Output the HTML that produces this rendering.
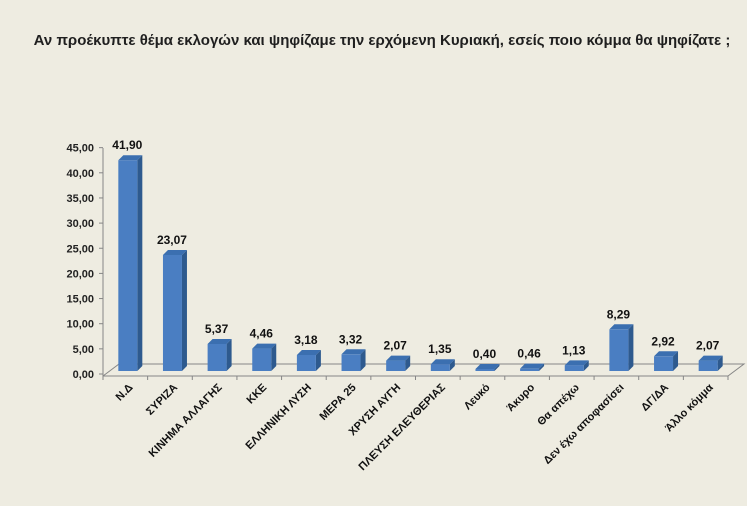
<!DOCTYPE html>
<html><head><meta charset="utf-8"><style>
body{margin:0;background:#EEECE1;}
svg{display:block;font-family:"Liberation Sans","DejaVu Sans",sans-serif;}
</style></head><body>
<svg width="747" height="506" viewBox="0 0 747 506">
<rect width="747" height="506" fill="#EEECE1"/>
<text x="382" y="45" text-anchor="middle" font-size="15" font-weight="bold" fill="#1F1F1F">Αν προέκυπτε θέμα εκλογών και ψηφίζαμε την ερχόμενη Κυριακή, εσείς ποιο κόμμα θα ψηφίζατε ;</text>
<g id="axes"></g>
<g id="bars"></g>
</svg>
<script>
const categories=["Ν.Δ","ΣΥΡΙΖΑ","ΚΙΝΗΜΑ ΑΛΛΑΓΗΣ","ΚΚΕ","ΕΛΛΗΝΙΚΗ ΛΥΣΗ","ΜΕΡΑ 25","ΧΡΥΣΗ ΑΥΓΗ","ΠΛΕΥΣΗ ΕΛΕΥΘΕΡΙΑΣ","Λευκό","Άκυρο","Θα απέχω","Δεν έχω αποφασίσει","ΔΓ/ΔΑ","Άλλο κόμμα"];
const values=[41.90,23.07,5.37,4.46,3.18,3.32,2.07,1.35,0.40,0.46,1.13,8.29,2.92,2.07];
const labels=["41,90","23,07","5,37","4,46","3,18","3,32","2,07","1,35","0,40","0,46","1,13","8,29","2,92","2,07"];
const ticks=[0,5,10,15,20,25,30,35,40,45];
const tickLabels=["0,00","5,00","10,00","15,00","20,00","25,00","30,00","35,00","40,00","45,00"];
const NS="http://www.w3.org/2000/svg";
const x0=103,x1=728,y0=376,kY=5.03,dx=16,dy=12;
const n=categories.length, cw=(x1-x0)/n;
const yS=v=>y0-3-v*kY;
function mk(t,a,p){const e=document.createElementNS(NS,t);for(const k in a)e.setAttribute(k,a[k]);if(t==="text"&&a._t!==undefined){e.textContent=a._t;e.removeAttribute('_t');}(p||document.getElementById('axes')).appendChild(e);return e;}
const ax=document.getElementById('axes');
let e;
e=mk('line',{x1:x0,y1:148,x2:x0,y2:y0,stroke:'#868686'});


e=mk('polyline',{points:`${x0},${y0} ${x0+dx},${y0-dy} ${x1+dx},${y0-dy} ${x1},${y0}`,fill:'none',stroke:'#868686'});


e=mk('line',{x1:x0,y1:y0,x2:x1,y2:y0,stroke:'#868686'});


ticks.forEach((t,i)=>{const y=y0-2-t*kY;
 mk('line',{x1:x0-4,y1:y,x2:x0,y2:y,stroke:'#868686'});
 e=mk('text',{x:x0-9,y:y+4,'text-anchor':'end','font-size':11,'font-weight':'bold',fill:'#222',_t:tickLabels[i]});
 
 
});
for(let i=0;i<=n;i++){const x=x0+i*cw;mk('line',{x1:x,y1:y0,x2:x,y2:y0+4,stroke:'#868686'});}
const bg=document.getElementById('bars');
categories.forEach((c,i)=>{
 const cx=x0+(i+0.5)*cw, bl=cx-7, bw=19, d=5, yb=y0-5, yt=yb-values[i]*kY;
 const g=mk('g',{},bg);
 
 
 mk('polygon',{points:`${bl+bw},${yt} ${bl+bw+d},${yt-d} ${bl+bw+d},${yb-d} ${bl+bw},${yb}`,fill:'#2E5A8E'},g);
 mk('polygon',{points:`${bl},${yt} ${bl+d},${yt-d} ${bl+bw+d},${yt-d} ${bl+bw},${yt}`,fill:'#3B6FB0'},g);
 mk('rect',{x:bl,y:yt,width:bw,height:yb-yt,fill:'#4A7EC2'},g);
 e=mk('text',{x:cx+2,y:yt-11,'text-anchor':'middle','font-size':12,'font-weight':'bold',fill:'#111',_t:labels[i]});
 
 
 e=mk('text',{x:cx+8,y:y0+12,'text-anchor':'end','font-size':11,'font-weight':'bold',fill:'#111',transform:`rotate(-45 ${cx+8} ${y0+12})`,_t:c});
 
 
});
</script>
</body></html>
